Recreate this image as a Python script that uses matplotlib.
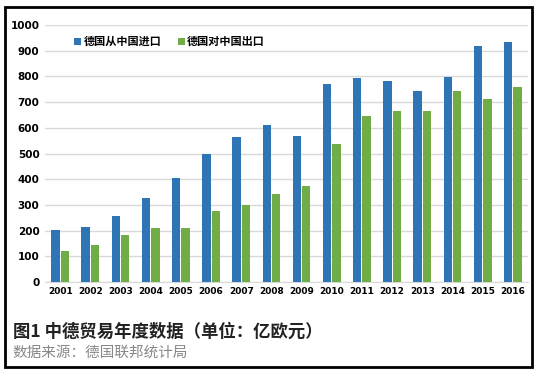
import matplotlib
matplotlib.use("Agg")
import matplotlib.pyplot as plt
import numpy as np
from matplotlib.patches import Rectangle

plt.rcParams['font.family'] = ['Noto Sans CJK SC', 'DejaVu Sans']

years = ['2001', '2002', '2003', '2004', '2005', '2006', '2007', '2008',
         '2009', '2010', '2011', '2012', '2013', '2014', '2015', '2016']
imports = [202, 214, 257, 327, 405, 498, 565, 610, 567, 770, 794, 782, 743, 798, 918, 936]
exports = [121, 144, 183, 210, 210, 276, 300, 342, 373, 537, 646, 665, 665, 743, 712, 759]
yticks = [0, 100, 200, 300, 400, 500, 600, 700, 800, 900, 1000]

blue = '#2E75B6'
green = '#70AD47'

fig = plt.figure(figsize=(5.37, 3.69), dpi=100)
ax = fig.add_axes([0.084, 0.236, 0.899, 0.696])

x = np.arange(len(years))
w = 0.28
ax.bar(x - w / 2 - 0.015, imports, w, color=blue, label='德国从中国进口', zorder=3)
ax.bar(x + w / 2 + 0.015, exports, w, color=green, label='德国对中国出口', zorder=3)

ax.set_xlim(-0.5, len(years) - 0.5)
ax.set_ylim(0, 1000)
ax.set_yticks(yticks)
ax.set_xticks(x)
ax.set_xticklabels(years)
ax.grid(axis='y', color='#d9d9d9', linewidth=1, zorder=0)
for s in ['top', 'right', 'left']:
    ax.spines[s].set_visible(False)
ax.spines['bottom'].set_color('#d9d9d9')
ax.tick_params(length=0, labelsize=7.5, pad=4)
for lab in ax.get_xticklabels() + ax.get_yticklabels():
    lab.set_fontweight('bold')
    lab.set_family('DejaVu Sans')
ax.tick_params(axis='x', labelsize=6.5)

ax.legend(loc='upper left', bbox_to_anchor=(0.04, 1.0), ncol=2, frameon=False,
          handlelength=0.6, handleheight=0.6, handletextpad=0.2, columnspacing=1.5,
          prop={'size': 8, 'weight': 'bold'})

fig.text(0.024, 0.10, '图1 中德贸易年度数据（单位：亿欧元）', fontsize=12.5,
         fontweight='bold', color='#222222', va='center')
fig.text(0.024, 0.043, '数据来源：德国联邦统计局', fontsize=10.5,
         color='#888888', va='center')

fig.patches.append(Rectangle((0.009, 0.006), 0.982, 0.976, transform=fig.transFigure,
                             fill=False, edgecolor='black', linewidth=2))

fig.savefig('out.png', dpi=100)
